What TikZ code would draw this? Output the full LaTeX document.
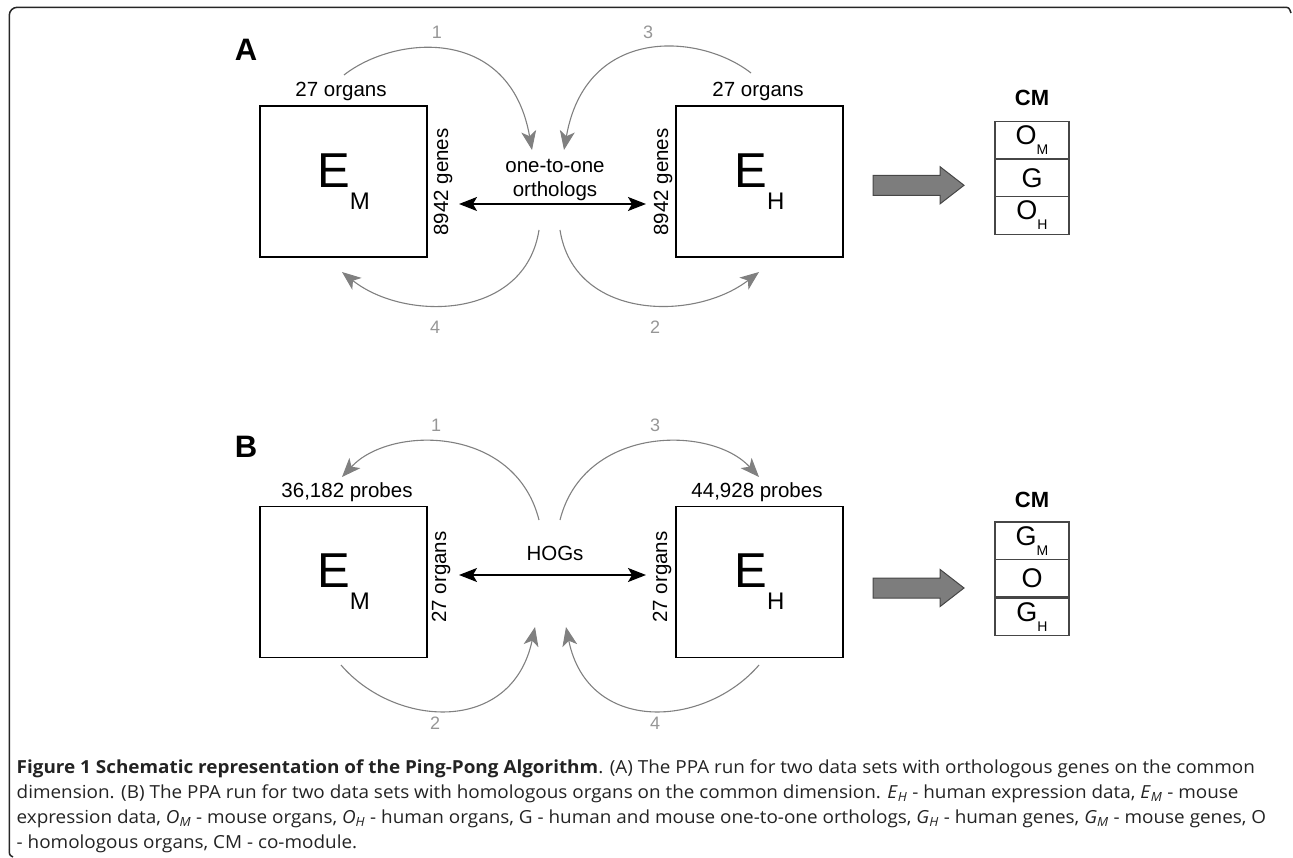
\documentclass[tikz,border=0pt]{standalone}
\usepackage{fontspec}
\setmainfont{Liberation Sans}
\newfontfamily\capfont[FakeStretch=1.05]{Open Sans}
\usetikzlibrary{arrows.meta}

\definecolor{curvegray}{RGB}{128,128,128}
\definecolor{numgray}{RGB}{150,150,150}
\definecolor{fillgray}{RGB}{125,125,125}
\definecolor{edgegray}{RGB}{70,70,70}
\definecolor{captgray}{RGB}{35,35,35}

\newcommand{\matlabel}[2]{\fontsize{49}{49}\selectfont #1\raisebox{-22pt}{\fontsize{24}{24}\selectfont #2}}
\newcommand{\cellsub}[2]{\fontsize{27}{27}\selectfont #1\raisebox{-10pt}{\fontsize{14}{14}\selectfont #2}}

\tikzset{
  databox/.style={draw,line width=1.3pt,minimum width=167pt,minimum height=151pt,inner sep=0pt},
  dimlabel/.style={font=\fontsize{20.5}{24}\selectfont,inner sep=0pt},
  numlabel/.style={font=\fontsize{18}{20}\selectfont,text=numgray,inner sep=0pt},
  panel/.style={font=\fontsize{31}{31}\selectfont\bfseries,inner sep=0pt},
  pingpong/.style={draw=curvegray,line width=1.1pt,-{Stealth[length=19pt,width=15pt,inset=5pt]}},
  bothway/.style={line width=1.3pt,{Stealth[length=18pt,width=14pt,inset=4pt]}-{Stealth[length=18pt,width=14pt,inset=4pt]}},
  blockarrow/.style={fill=fillgray,draw=edgegray,line width=1pt},
  cmcell/.style={draw=edgegray,line width=1.2pt,minimum width=74pt,minimum height=37.5pt,inner sep=0pt},
  cmhead/.style={font=\fontsize{22}{22}\selectfont\bfseries,inner sep=0pt},
  frame/.style={line width=1.5pt,draw=black!85},
  captext/.style={font=\capfont\fontsize{18}{25}\selectfont,text=captgray,align=left,inner sep=0pt}
}

\begin{document}
\begin{tikzpicture}[x=1pt,y=-1pt]
  \useasboundingbox (0,0) rectangle (1293,858);
  % frame
  \draw[frame,rounded corners=8pt] (9.3,849) -- (9.3,7.3) -- (1283,7.3);
  \draw[frame] (1283,7.3) .. controls (1289,7.3) .. (1291,13);
  \draw[frame] (9.3,849) .. controls (9.3,855) .. (13,857);

  % panel A
  \node[panel] (lblA) at (246,50) {A};
  \node[databox] (emA) at (343.5,181.5) {\matlabel{E}{M}};
  \node[databox] (ehA) at (759.5,181.5) {\matlabel{E}{H}};
  \node[dimlabel,anchor=south] (orgA1) at (341,101) {27 organs};
  \node[dimlabel,anchor=south] (orgA2) at (758,101) {27 organs};
  \node[dimlabel,rotate=90] (genA1) at (443,182) {8942 genes};
  \node[dimlabel,rotate=90] (genA2) at (663,182) {8942 genes};
  \node[dimlabel,align=center] (orthA) at (555,180) {one-to-one\\orthologs};
  \coordinate (dA1) at (459,204);
  \coordinate (dA2) at (646,204);
  \draw[bothway] (dA1) -- (dA2);

  \coordinate (a1s) at (344,75);  \coordinate (a1e) at (532,150);
  \coordinate (a3s) at (751,73);  \coordinate (a3e) at (564,150);
  \coordinate (a4s) at (539,230); \coordinate (a4e) at (342,272);
  \coordinate (a2s) at (560,230); \coordinate (a2e) at (759,272);
  \draw[pingpong] (a1s) .. controls (395,35) and (510,25) .. (a1e);
  \draw[pingpong] (a3s) .. controls (700,33) and (586,25) .. (a3e);
  \draw[pingpong] (a4s) .. controls (525,320) and (405,322) .. (a4e);
  \draw[pingpong] (a2s) .. controls (574,320) and (694,322) .. (a2e);
  \node[numlabel] (nA1) at (437,32) {1};
  \node[numlabel] (nA3) at (648,32) {3};
  \node[numlabel] (nA4) at (435,327) {4};
  \node[numlabel] (nA2) at (655,327) {2};

  \coordinate (pA) at (918,185.3);
  \draw[blockarrow,shift={(pA)}] (-45,-10) -- (22,-10) -- (22,-18.6) -- (46,0)
    -- (22,18.6) -- (22,10) -- (-45,10) -- cycle;

  \node[cmhead] (cmA) at (1032,98) {CM};
  \node[cmcell] (cA1) at (1032,140.25) {\cellsub{O}{M}};
  \node[cmcell] (cA2) at (1032,178) {\fontsize{27}{27}\selectfont G};
  \node[cmcell] (cA3) at (1032,215.5) {\cellsub{O}{H}};

  % panel B
  \node[panel] (lblB) at (246,447) {B};
  \node[databox] (emB) at (343.5,582) {\matlabel{E}{M}};
  \node[databox] (ehB) at (759.5,582) {\matlabel{E}{H}};
  \node[dimlabel,anchor=south] (prbB1) at (347,502) {36,182 probes};
  \node[dimlabel,anchor=south] (prbB2) at (757,502) {44,928 probes};
  \node[dimlabel,rotate=90] (orgB1) at (441,577) {27 organs};
  \node[dimlabel,rotate=90] (orgB2) at (662,577) {27 organs};
  \node[dimlabel] (hogB) at (555,553) {HOGs};
  \coordinate (dB1) at (459,575);
  \coordinate (dB2) at (646,575);
  \draw[bothway] (dB1) -- (dB2);

  \coordinate (b1s) at (539,520); \coordinate (b1e) at (342,477);
  \coordinate (b3s) at (560,520); \coordinate (b3e) at (759,477);
  \coordinate (b2s) at (341,665); \coordinate (b2e) at (535,627);
  \coordinate (b4s) at (759,665); \coordinate (b4e) at (566,627);
  \draw[pingpong] (b1s) .. controls (515,425) and (390,425) .. (b1e);
  \draw[pingpong] (b3s) .. controls (584,425) and (711,425) .. (b3e);
  \draw[pingpong] (b2s) .. controls (395,728) and (512,735) .. (b2e);
  \draw[pingpong] (b4s) .. controls (705,728) and (588,735) .. (b4e);
  \node[numlabel] (nB1) at (436,425) {1};
  \node[numlabel] (nB3) at (655,425) {3};
  \node[numlabel] (nB2) at (435,723) {2};
  \node[numlabel] (nB4) at (655,723) {4};

  \coordinate (pB) at (918,588);
  \draw[blockarrow,shift={(pB)}] (-45,-10) -- (22,-10) -- (22,-18.6) -- (46,0)
    -- (22,18.6) -- (22,10) -- (-45,10) -- cycle;

  \node[cmhead] (cmB) at (1032,500) {CM};
  \node[cmcell] (cB1) at (1032,540.75) {\cellsub{G}{M}};
  \node[cmcell] (cB2) at (1032,578.25) {\fontsize{27}{27}\selectfont O};
  \node[cmcell] (cB3) at (1032,616.75) {\cellsub{G}{H}};

  % caption
  \node[captext,anchor=base west] (cap) at (16.5,848) {\textbf{Figure 1 Schematic representation of the Ping-Pong Algorithm}. (A) The PPA run for two data sets with orthologous genes on the common\\
    dimension. (B) The PPA run for two data sets with homologous organs on the common dimension. \emph{E}\textsubscript{\emph{H}} - human expression data, \emph{E}\textsubscript{\emph{M}} - mouse\\
    expression data, \emph{O}\textsubscript{\emph{M}} - mouse organs, \emph{O}\textsubscript{\emph{H}} - human organs, G - human and mouse one-to-one orthologs, \emph{G}\textsubscript{\emph{H}} - human genes, \emph{G}\textsubscript{\emph{M}} - mouse genes, O\\
    - homologous organs, CM - co-module.};
\end{tikzpicture}
\end{document}
